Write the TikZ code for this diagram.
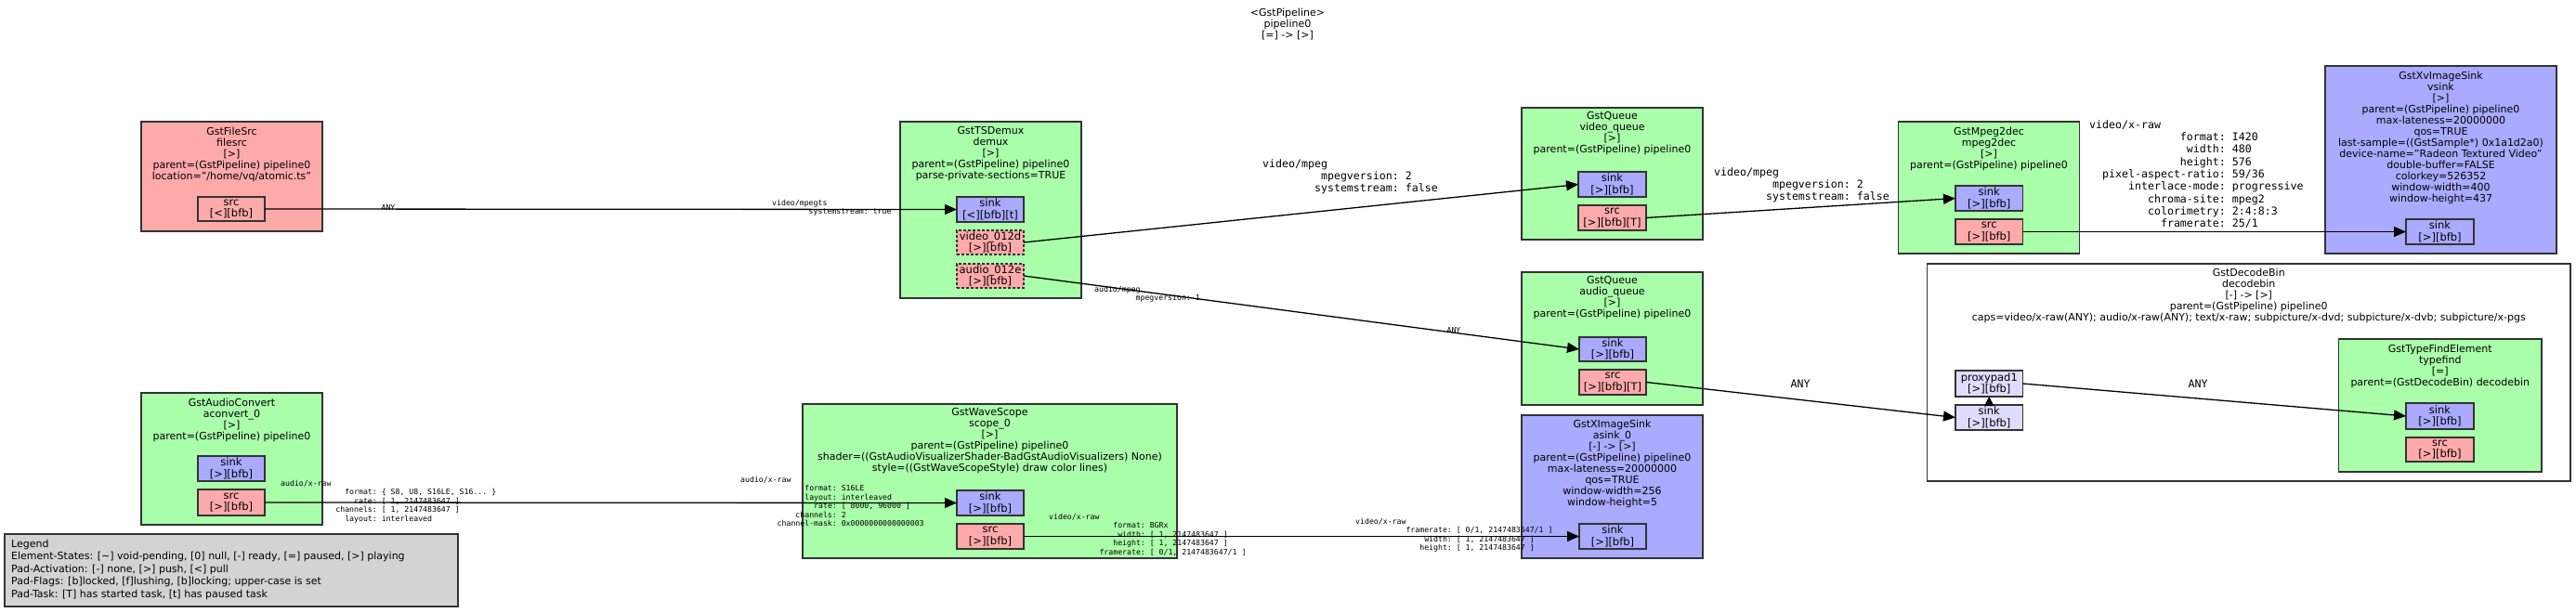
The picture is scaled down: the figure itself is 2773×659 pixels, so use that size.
\documentclass[tikz,border=0pt]{standalone}
\usepackage{fontspec}
\setmainfont{DejaVu Sans}
\setmonofont{DejaVu Sans Mono}
\usetikzlibrary{arrows.meta}
\definecolor{elgreen}{HTML}{AAFFAA}
\definecolor{elblue}{HTML}{AAAAFF}
\definecolor{elpink}{HTML}{FFAAAA}
\definecolor{ghost}{HTML}{DDDDFF}
\definecolor{leggray}{HTML}{D3D3D3}
\definecolor{bordc}{HTML}{333333}
\newcommand\fld[2]{\hspace*{1.204em}\makebox[10.836em][r]{#1}:\ #2}
\begin{document}
\begin{tikzpicture}[x=1pt,y=-1pt,
 box/.style={draw=bordc, line width=1.6pt, anchor=north west, inner sep=0pt, outer sep=0pt},
 padbox/.style={draw=bordc, line width=1.6pt, anchor=north west, inner sep=0pt, outer sep=0pt, align=center, font=\fontsize{11.5}{12.5}\selectfont},
 sometimes/.style={dash pattern=on 3pt off 2pt},
 etext/.style={anchor=north, align=center, inner sep=0pt, font=\fontsize{11}{12}\selectfont},
 capbig/.style={anchor=north west, align=left, inner sep=0pt, font=\ttfamily\fontsize{11.6}{13}\selectfont},
 capsmall/.style={anchor=north west, align=left, inner sep=0pt, font=\ttfamily\fontsize{8.2}{9.4}\selectfont},
 edge/.style={draw=black, line width=1.3pt, -{Triangle[length=13pt,width=11pt]}},
]
\useasboundingbox (0,0) rectangle (2773,659);
\fill[white] (0,0) rectangle (2773,659);

% title
\node[etext] (title) at (1386,9) {<GstPipeline>\\pipeline0\\{}[=] -> [>]};

% decodebin bin
\node[box, fill=white, minimum width=692.5, minimum height=234] (decodebin) at (2074.5,284) {};
\node[etext] (decodebin-t) at (2420.75,288.5) {GstDecodeBin\\decodebin\\{}[-] -> [>]\\parent=(GstPipeline) pipeline0\\caps=video/x-raw(ANY); audio/x-raw(ANY); text/x-raw; subpicture/x-dvd; subpicture/x-dvb; subpicture/x-pgs};

% elements
\node[box, fill=elpink, minimum width=195, minimum height=118] (filesrc) at (152,131) {};
\node[etext] (filesrc-t) at (249.5,136.5) {GstFileSrc\\filesrc\\{}[>]\\parent=(GstPipeline) pipeline0\\location="/home/vq/atomic.ts"};

\node[box, fill=elgreen, minimum width=195, minimum height=190] (demux) at (969,131) {};
\node[etext] (demux-t) at (1066.5,136.5) {GstTSDemux\\demux\\{}[>]\\parent=(GstPipeline) pipeline0\\parse-private-sections=TRUE};

\node[box, fill=elgreen, minimum width=195, minimum height=142] (vqueue) at (1638,116) {};
\node[etext] (vqueue-t) at (1735.5,120.5) {GstQueue\\video\_queue\\{}[>]\\parent=(GstPipeline) pipeline0};

\node[box, fill=elgreen, minimum width=195, minimum height=142] (mpeg2dec) at (2043.5,131) {};
\node[etext] (mpeg2dec-t) at (2141,136.5) {GstMpeg2dec\\mpeg2dec\\{}[>]\\parent=(GstPipeline) pipeline0};

\node[box, fill=elblue, minimum width=249, minimum height=202] (vsink) at (2503,71) {};
\node[etext] (vsink-t) at (2627.5,76.5) {GstXvImageSink\\vsink\\{}[>]\\parent=(GstPipeline) pipeline0\\max-lateness=20000000\\qos=TRUE\\last-sample=((GstSample*) 0x1a1d2a0)\\device-name="Radeon Textured Video"\\double-buffer=FALSE\\colorkey=526352\\window-width=400\\window-height=437};

\node[box, fill=elgreen, minimum width=218.5, minimum height=143] (typefind) at (2517.5,365) {};
\node[etext] (typefind-t) at (2626.75,370.5) {GstTypeFindElement\\typefind\\{}[=]\\parent=(GstDecodeBin) decodebin};

\node[box, fill=elgreen, minimum width=195, minimum height=143] (aqueue) at (1638,293) {};
\node[etext] (aqueue-t) at (1735.5,297.5) {GstQueue\\audio\_queue\\{}[>]\\parent=(GstPipeline) pipeline0};

\node[box, fill=elblue, minimum width=195, minimum height=154] (asink) at (1638,447) {};
\node[etext] (asink-t) at (1735.5,451.5) {GstXImageSink\\asink\_0\\{}[-] -> [>]\\parent=(GstPipeline) pipeline0\\max-lateness=20000000\\qos=TRUE\\window-width=256\\window-height=5};

\node[box, fill=elgreen, minimum width=403, minimum height=166] (scope) at (864,435) {};
\node[etext] (scope-t) at (1065.5,439.5) {GstWaveScope\\scope\_0\\{}[>]\\parent=(GstPipeline) pipeline0\\shader=((GstAudioVisualizerShader-BadGstAudioVisualizers) None)\\style=((GstWaveScopeStyle) draw color lines)};

\node[box, fill=elgreen, minimum width=195, minimum height=142] (aconvert) at (152,423) {};
\node[etext] (aconvert-t) at (249.5,428.5) {GstAudioConvert\\aconvert\_0\\{}[>]\\parent=(GstPipeline) pipeline0};

% pads
\node[padbox, fill=elpink, minimum width=72, minimum height=26] (fs-src) at (213,212) {src\\{}[<][bfb]};
\node[padbox, fill=elblue, minimum width=72, minimum height=27] (dm-sink) at (1030,212) {sink\\{}[<][bfb][t]};
\node[padbox, fill=elpink, sometimes, minimum width=72, minimum height=26] (dm-video) at (1030,248) {video\_012d\\{}[>][bfb]};
\node[padbox, fill=elpink, sometimes, minimum width=72, minimum height=26] (dm-audio) at (1030,284) {audio\_012e\\{}[>][bfb]};
\node[padbox, fill=elblue, minimum width=73, minimum height=27] (vq-sink) at (1699,185) {sink\\{}[>][bfb]};
\node[padbox, fill=elpink, minimum width=73, minimum height=27] (vq-src) at (1699,221) {src\\{}[>][bfb][T]};
\node[padbox, fill=elblue, minimum width=72.5, minimum height=27] (md-sink) at (2105,200) {sink\\{}[>][bfb]};
\node[padbox, fill=elpink, minimum width=72.5, minimum height=27] (md-src) at (2105,236) {src\\{}[>][bfb]};
\node[padbox, fill=elblue, minimum width=73, minimum height=27] (vs-sink) at (2590,236) {sink\\{}[>][bfb]};
\node[padbox, fill=ghost, minimum width=72.5, minimum height=28] (db-proxy) at (2105,399) {proxypad1\\{}[>][bfb]};
\node[padbox, fill=ghost, minimum width=72.5, minimum height=27] (db-sink) at (2105,436) {sink\\{}[>][bfb]};
\node[padbox, fill=elblue, minimum width=73, minimum height=28] (tf-sink) at (2590,434) {sink\\{}[>][bfb]};
\node[padbox, fill=elpink, minimum width=73, minimum height=26] (tf-src) at (2590,471) {src\\{}[>][bfb]};
\node[padbox, fill=elblue, minimum width=72, minimum height=26] (aq-sink) at (1700,363) {sink\\{}[>][bfb]};
\node[padbox, fill=elpink, minimum width=72, minimum height=27] (aq-src) at (1700,398) {src\\{}[>][bfb][T]};
\node[padbox, fill=elblue, minimum width=72, minimum height=27] (as-sink) at (1700,564) {sink\\{}[>][bfb]};
\node[padbox, fill=elblue, minimum width=72, minimum height=27] (sc-sink) at (1030,528) {sink\\{}[>][bfb]};
\node[padbox, fill=elpink, minimum width=72, minimum height=27] (sc-src) at (1030,564) {src\\{}[>][bfb]};
\node[padbox, fill=elblue, minimum width=72, minimum height=27] (ac-sink) at (213,491) {sink\\{}[>][bfb]};
\node[padbox, fill=elpink, minimum width=72, minimum height=28] (ac-src) at (213,527) {src\\{}[>][bfb]};

% edges
\draw[edge] (fs-src.east) -- (dm-sink.west);
\draw[edge] (dm-video.east) -- (vq-sink.west);
\draw[edge] (dm-audio.east) -- (aq-sink.west);
\draw[edge] (vq-src.east) -- (md-sink.west);
\draw[edge] (md-src.east) -- (vs-sink.west);
\draw[edge] (aq-src.east) -- (db-sink.west);
\draw[draw=black, line width=1.3pt, -{Triangle[length=10pt,width=10pt]}] (db-sink.north) -- (db-proxy.south);
\draw[edge] (db-proxy.east) -- (tf-sink.west);
\draw[edge] (ac-src.east) -- (sc-sink.west);
\draw[edge] (sc-src.east) -- (as-sink.west);

% edge labels
\node[capsmall, anchor=center] (lbl-any1) at (418,224) {ANY};
\node[capsmall] (lbl-mpegts) at (831,215) {video/mpegts\\\fld{systemstream}{true}};
\node[capbig] (lbl-vmpeg1) at (1359,171.3) {video/mpeg\\\fld{mpegversion}{2}\\\fld{systemstream}{false}};
\node[capsmall] (lbl-ampeg) at (1178,308) {audio/mpeg\\\fld{mpegversion}{1}};
\node[capsmall, anchor=center] (lbl-any2) at (1565,356) {ANY};
\node[capbig] (lbl-vmpeg2) at (1845,180.3) {video/mpeg\\\fld{mpegversion}{2}\\\fld{systemstream}{false}};
\node[capbig, font=\ttfamily\fontsize{11.6}{13.3}\selectfont] (lbl-xraw) at (2249,129.3) {video/x-raw\\\fld{format}{I420}\\\fld{width}{480}\\\fld{height}{576}\\\fld{pixel-aspect-ratio}{59/36}\\\fld{interlace-mode}{progressive}\\\fld{chroma-site}{mpeg2}\\\fld{colorimetry}{2:4:8:3}\\\fld{framerate}{25/1}};
\node[capbig, anchor=center] (lbl-any3) at (1938,413) {ANY};
\node[capbig, anchor=center] (lbl-any4) at (2366,413) {ANY};
\node[capsmall] (lbl-ac) at (302,517) {audio/x-raw\\\fld{format}{\{ S8, U8, S16LE, S16... \}}\\\fld{rate}{[ 1, 2147483647 ]}\\\fld{channels}{[ 1, 2147483647 ]}\\\fld{layout}{interleaved}};
\node[capsmall] (lbl-scin) at (797,513) {audio/x-raw\\\fld{format}{S16LE}\\\fld{layout}{interleaved}\\\fld{rate}{[ 8000, 96000 ]}\\\fld{channels}{2}\\\fld{channel-mask}{0x0000000000000003}};
\node[capsmall] (lbl-scout) at (1129,553) {video/x-raw\\\fld{format}{BGRx}\\\fld{width}{[ 1, 2147483647 ]}\\\fld{height}{[ 1, 2147483647 ]}\\\fld{framerate}{[ 0/1, 2147483647/1 ]}};
\node[capsmall] (lbl-asin) at (1459,558) {video/x-raw\\\fld{framerate}{[ 0/1, 2147483647/1 ]}\\\fld{width}{[ 1, 2147483647 ]}\\\fld{height}{[ 1, 2147483647 ]}};

% legend
\node[box, fill=leggray, minimum width=488, minimum height=78] (legend) at (5,575) {};
\node[anchor=north west, align=left, inner sep=0pt, font=\fontsize{11}{13.5}\selectfont] (legend-t) at (12,580.5) {Legend\\Element-States: [\textasciitilde] void-pending, [0] null, [-] ready, [=] paused, [>] playing\\Pad-Activation: [-] none, [>] push, [<] pull\\Pad-Flags: [b]locked, [f]lushing, [b]locking; upper-case is set\\Pad-Task: [T] has started task, [t] has paused task};
\end{tikzpicture}
\end{document}
